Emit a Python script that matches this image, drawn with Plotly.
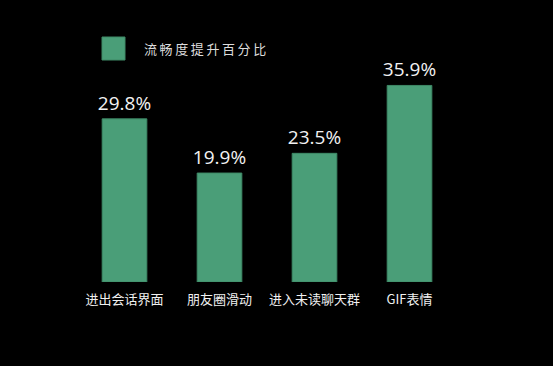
import plotly.graph_objects as go

categories = ["进出会话界面", "朋友圈滑动", "进入未读聊天群", "GIF表情"]
values = [29.8, 19.9, 23.5, 35.9]
labels = ["29.8%", "19.9%", "23.5%", "35.9%"]
series_name = "流畅度提升百分比"

bar_color = "#4A9E78"

fig = go.Figure()
fig.add_trace(go.Bar(
    x=categories, y=values, text=labels, textposition="outside",
    constraintext="none",
    textfont=dict(family="Open Sans, Noto Sans CJK SC", size=19, color="#F2F2F2"),
    marker=dict(color=bar_color, line=dict(color="#3E8A67", width=1)),
    cliponaxis=False, name=series_name, showlegend=False,
))

# legend drawn manually
fig.add_shape(type="rect", xref="paper", yref="paper",
              x0=(102 - 77) / 380, x1=(125 - 77) / 380,
              y0=(282 - 60) / 219, y1=(282 - 37) / 219,
              fillcolor=bar_color, line=dict(color="#3E8A67", width=1))
fig.add_annotation(xref="paper", yref="paper", x=(142 - 77) / 380, y=(282 - 48.5) / 219,
                   xanchor="left", yanchor="middle", showarrow=False,
                   text="\u2009".join(series_name),
                   font=dict(family="Noto Sans CJK SC", size=13, color="#DDDDDD"))

fig.update_layout(
    width=553, height=366,
    paper_bgcolor="#000000", plot_bgcolor="#000000",
    margin=dict(l=77, r=96, t=63, b=84),
    bargap=0.53,
    xaxis=dict(showgrid=False, zeroline=False, showline=False, ticks="",
               ticklabelstandoff=8,
               tickfont=dict(family="Noto Sans CJK SC", size=13, color="#F0F0F0")),
    yaxis=dict(range=[0, 40], visible=False, showgrid=False, zeroline=False),
    showlegend=False,
)

fig.write_html("out.html", config={"displayModeBar": False},
               post_script="document.body.style.margin='0';document.body.style.background='#000';")
